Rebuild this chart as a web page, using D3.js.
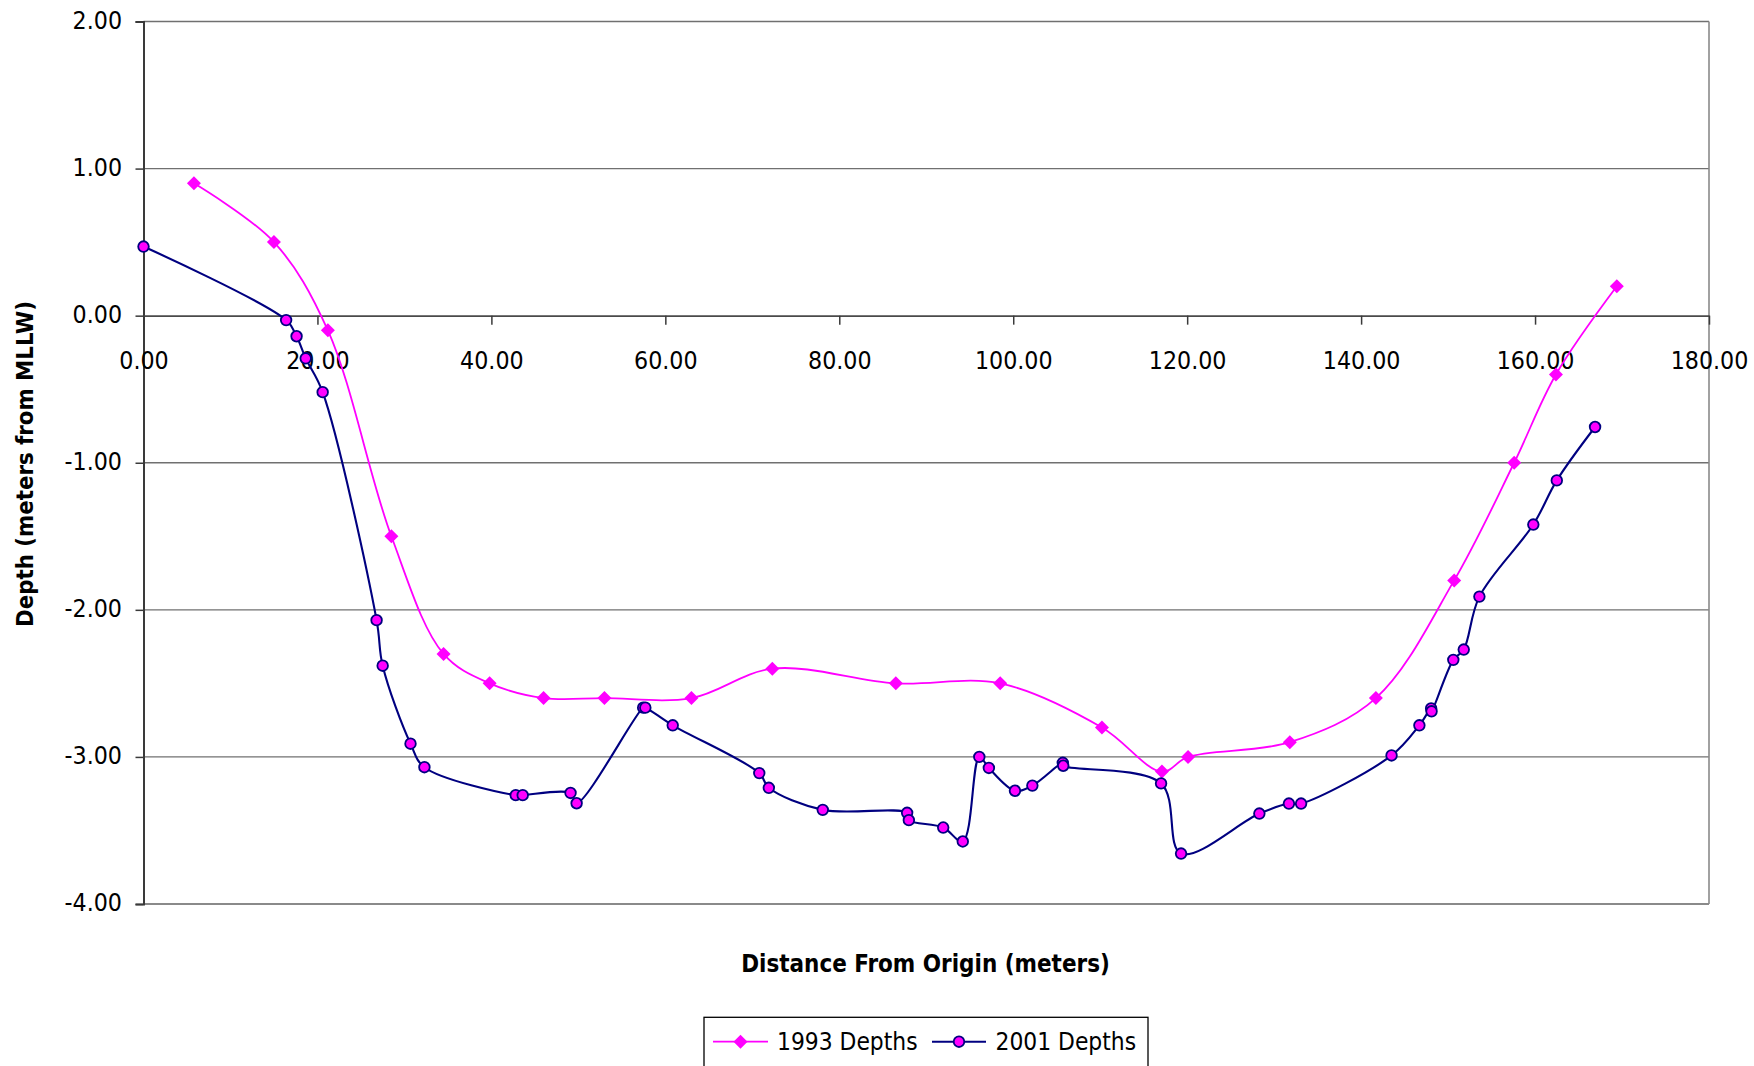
<!DOCTYPE html>
<html>
<head>
<meta charset="utf-8">
<script src="https://cdn.jsdelivr.net/npm/d3@7"></script>
<style>
  html, body { margin: 0; padding: 0; background: #fff; }
  svg { display: block; }
  text { font-family: "DejaVu Sans Condensed", "DejaVu Sans", sans-serif; fill: #000; }
</style>
</head>
<body>
<svg id="chart" width="1754" height="1066"></svg>
<script>
// ---- data ----
const x1993 = [5.8, 15.0, 21.2, 28.5, 34.5, 39.8, 46.0, 53.0, 63.0, 72.3, 86.5, 98.5, 110.2, 117.1, 120.1, 131.8, 141.7, 150.7, 157.6, 162.4, 169.4];
const y1993 = [0.9, 0.5, -0.1, -1.5, -2.3, -2.5, -2.6, -2.6, -2.6, -2.4, -2.5, -2.5, -2.8, -3.1, -3.0, -2.9, -2.6, -1.8, -1.0, -0.4, 0.2];

const x2001 = [0, 16.4, 17.6, 18.65, 20.6, 26.8, 27.5, 30.7, 32.3, 42.8, 43.6, 49.1, 49.8, 57.45, 57.7, 60.85, 70.8, 71.9, 78.1, 87.8, 88.0, 91.95, 94.2, 96.1, 97.2, 100.2, 102.2, 105.7, 105.75, 117.0, 119.3, 128.3, 131.7, 133.1, 143.5, 146.7, 148.05, 148.1, 150.6, 151.8, 153.6, 159.8, 162.5, 166.9];
const y2001 = [0.47, -0.03, -0.14, -0.29, -0.52, -2.07, -2.38, -2.91, -3.07, -3.26, -3.26, -3.245, -3.315, -2.665, -2.665, -2.785, -3.11, -3.21, -3.36, -3.38, -3.43, -3.48, -3.575, -3.0, -3.075, -3.23, -3.195, -3.04, -3.06, -3.18, -3.657, -3.385, -3.317, -3.317, -2.99, -2.785, -2.67, -2.69, -2.34, -2.27, -1.91, -1.42, -1.12, -0.757];

const xTicks = [0, 20, 40, 60, 80, 100, 120, 140, 160, 180];
const yTicks = [2, 1, 0, -1, -2, -3, -4];
const seriesNames = ["1993 Depths", "2001 Depths"];
const xTitle = "Distance From Origin (meters)";
const yTitle = "Depth (meters from MLLW)";

// ---- layout ----
const L = 143.5, R = 1709, T = 21.5, B = 904;
const svg = d3.select("#chart");
svg.append("rect").attr("width", 1754).attr("height", 1066).attr("fill", "#fff");

const x = d3.scaleLinear().domain([0, 180]).range([L, R]);
const y = d3.scaleLinear().domain([-4, 2]).range([B, T]);
const fmt = d3.formatLocale({ decimal: ".", thousands: ",", grouping: [3], currency: ["", ""], minus: "-" }).format(".2f");

function fitFont(sel, targetWidth, startSize) {
  sel.style("font-size", startSize + "px");
  const w = sel.node().getComputedTextLength();
  const s = startSize * targetWidth / w;
  sel.style("font-size", s + "px");
  return s;
}

// gridlines
svg.append("g").selectAll("line").data(yTicks.filter(v => v !== 0)).join("line")
  .attr("x1", L).attr("x2", R)
  .attr("y1", d => y(d)).attr("y2", d => y(d))
  .attr("stroke", "#707070").attr("stroke-width", 1.4);
// right border
svg.append("line").attr("x1", R).attr("x2", R).attr("y1", T).attr("y2", B)
  .attr("stroke", "#8a8a8a").attr("stroke-width", 1.6);
// bottom border
svg.append("line").attr("x1", L).attr("x2", R).attr("y1", B).attr("y2", B)
  .attr("stroke", "#8a8a8a").attr("stroke-width", 2);

// measure tick font size
const probe = svg.append("text").text("100.00");
const tickFont = fitFont(probe, 77.7, 25);
probe.remove();

// y axis
const yAxis = svg.append("g").attr("transform", `translate(${L},0)`)
  .call(d3.axisLeft(y).tickValues(yTicks).tickFormat(fmt).tickSize(8).tickPadding(14));
yAxis.select(".domain").attr("stroke", "#3a3a3a").attr("stroke-width", 2);
yAxis.selectAll(".tick line").attr("stroke", "#3a3a3a").attr("stroke-width", 1.5);
yAxis.selectAll("text").style("font-size", tickFont + "px").attr("font-family", null)
  .attr("x", -21.5).attr("dy", "0.27em");

// x axis at y=0
const xAxis = svg.append("g").attr("transform", `translate(0,${y(0)})`)
  .call(d3.axisBottom(x).tickValues(xTicks).tickFormat(fmt).tickSize(9).tickSizeOuter(0));
xAxis.select(".domain").attr("stroke", "#4a4a4a").attr("stroke-width", 1.6);
xAxis.selectAll(".tick line").attr("stroke", "#3a3a3a").attr("stroke-width", 1.5);
xAxis.selectAll("text").style("font-size", tickFont + "px").attr("font-family", null)
  .attr("y", 53).attr("dy", 0);

// series
const d1993 = x1993.map((v, i) => [v, y1993[i]]);
const d2001 = x2001.map((v, i) => [v, y2001[i]]);
const line = d3.line().x(d => x(d[0])).y(d => y(d[1])).curve(d3.curveCatmullRom.alpha(0.5));

const c1993 = "#ff00ff", c2001 = "#000080";
svg.append("path").datum(d1993).attr("d", line).attr("fill", "none")
  .attr("stroke", c1993).attr("stroke-width", 1.8);
svg.append("path").datum(d2001).attr("d", line).attr("fill", "none")
  .attr("stroke", c2001).attr("stroke-width", 2.1);

const diamond = d3.symbol(d3.symbolSquare).size(98);
const circle = d3.symbol(d3.symbolCircle).size(Math.PI * 5.3 * 5.3);

svg.append("g").selectAll("path").data(d1993).join("path")
  .attr("d", diamond)
  .attr("transform", d => `translate(${x(d[0])},${y(d[1])}) rotate(45)`)
  .attr("fill", c1993);
svg.append("g").selectAll("path").data(d2001).join("path")
  .attr("d", circle)
  .attr("transform", d => `translate(${x(d[0])},${y(d[1])})`)
  .attr("fill", c1993).attr("stroke", c2001).attr("stroke-width", 1.8);

// axis titles
const xt = svg.append("text").attr("x", 925.5).attr("y", 971.5)
  .attr("text-anchor", "middle").attr("font-weight", "bold").text(xTitle);
fitFont(xt, 369, 24);
const yt = svg.append("text").attr("transform", "translate(33,464) rotate(-90)")
  .attr("text-anchor", "middle").attr("font-weight", "bold").text(yTitle);
fitFont(yt, 326, 22);

// legend
const lg = svg.append("g");
lg.append("rect").attr("x", 704).attr("y", 1017.3).attr("width", 444).attr("height", 90)
  .attr("fill", "#fff").attr("stroke", "#000").attr("stroke-width", 1.3);
const legItems = [
  { name: seriesNames[0], color: c1993, sym: diamond, rot: 45, x0: 713, x1: 768, tx: 777, fill: c1993, stroke: "none" },
  { name: seriesNames[1], color: c2001, sym: circle, rot: 0, x0: 932, x1: 986, tx: 995.5, fill: c1993, stroke: c2001 }
];
const ly = 1041.7;
legItems.forEach((it, i) => {
  lg.append("line").attr("x1", it.x0).attr("x2", it.x1).attr("y1", ly).attr("y2", ly)
    .attr("stroke", it.color).attr("stroke-width", i === 0 ? 1.8 : 2.1);
  lg.append("path").attr("d", it.sym)
    .attr("transform", `translate(${(it.x0 + it.x1) / 2},${ly}) rotate(${it.rot})`)
    .attr("fill", it.fill).attr("stroke", it.stroke).attr("stroke-width", 1.8);
  const t = lg.append("text").attr("x", it.tx).attr("y", 1049.5).text(it.name);
  fitFont(t, 140.6, 25);
});
</script>
</body>
</html>
